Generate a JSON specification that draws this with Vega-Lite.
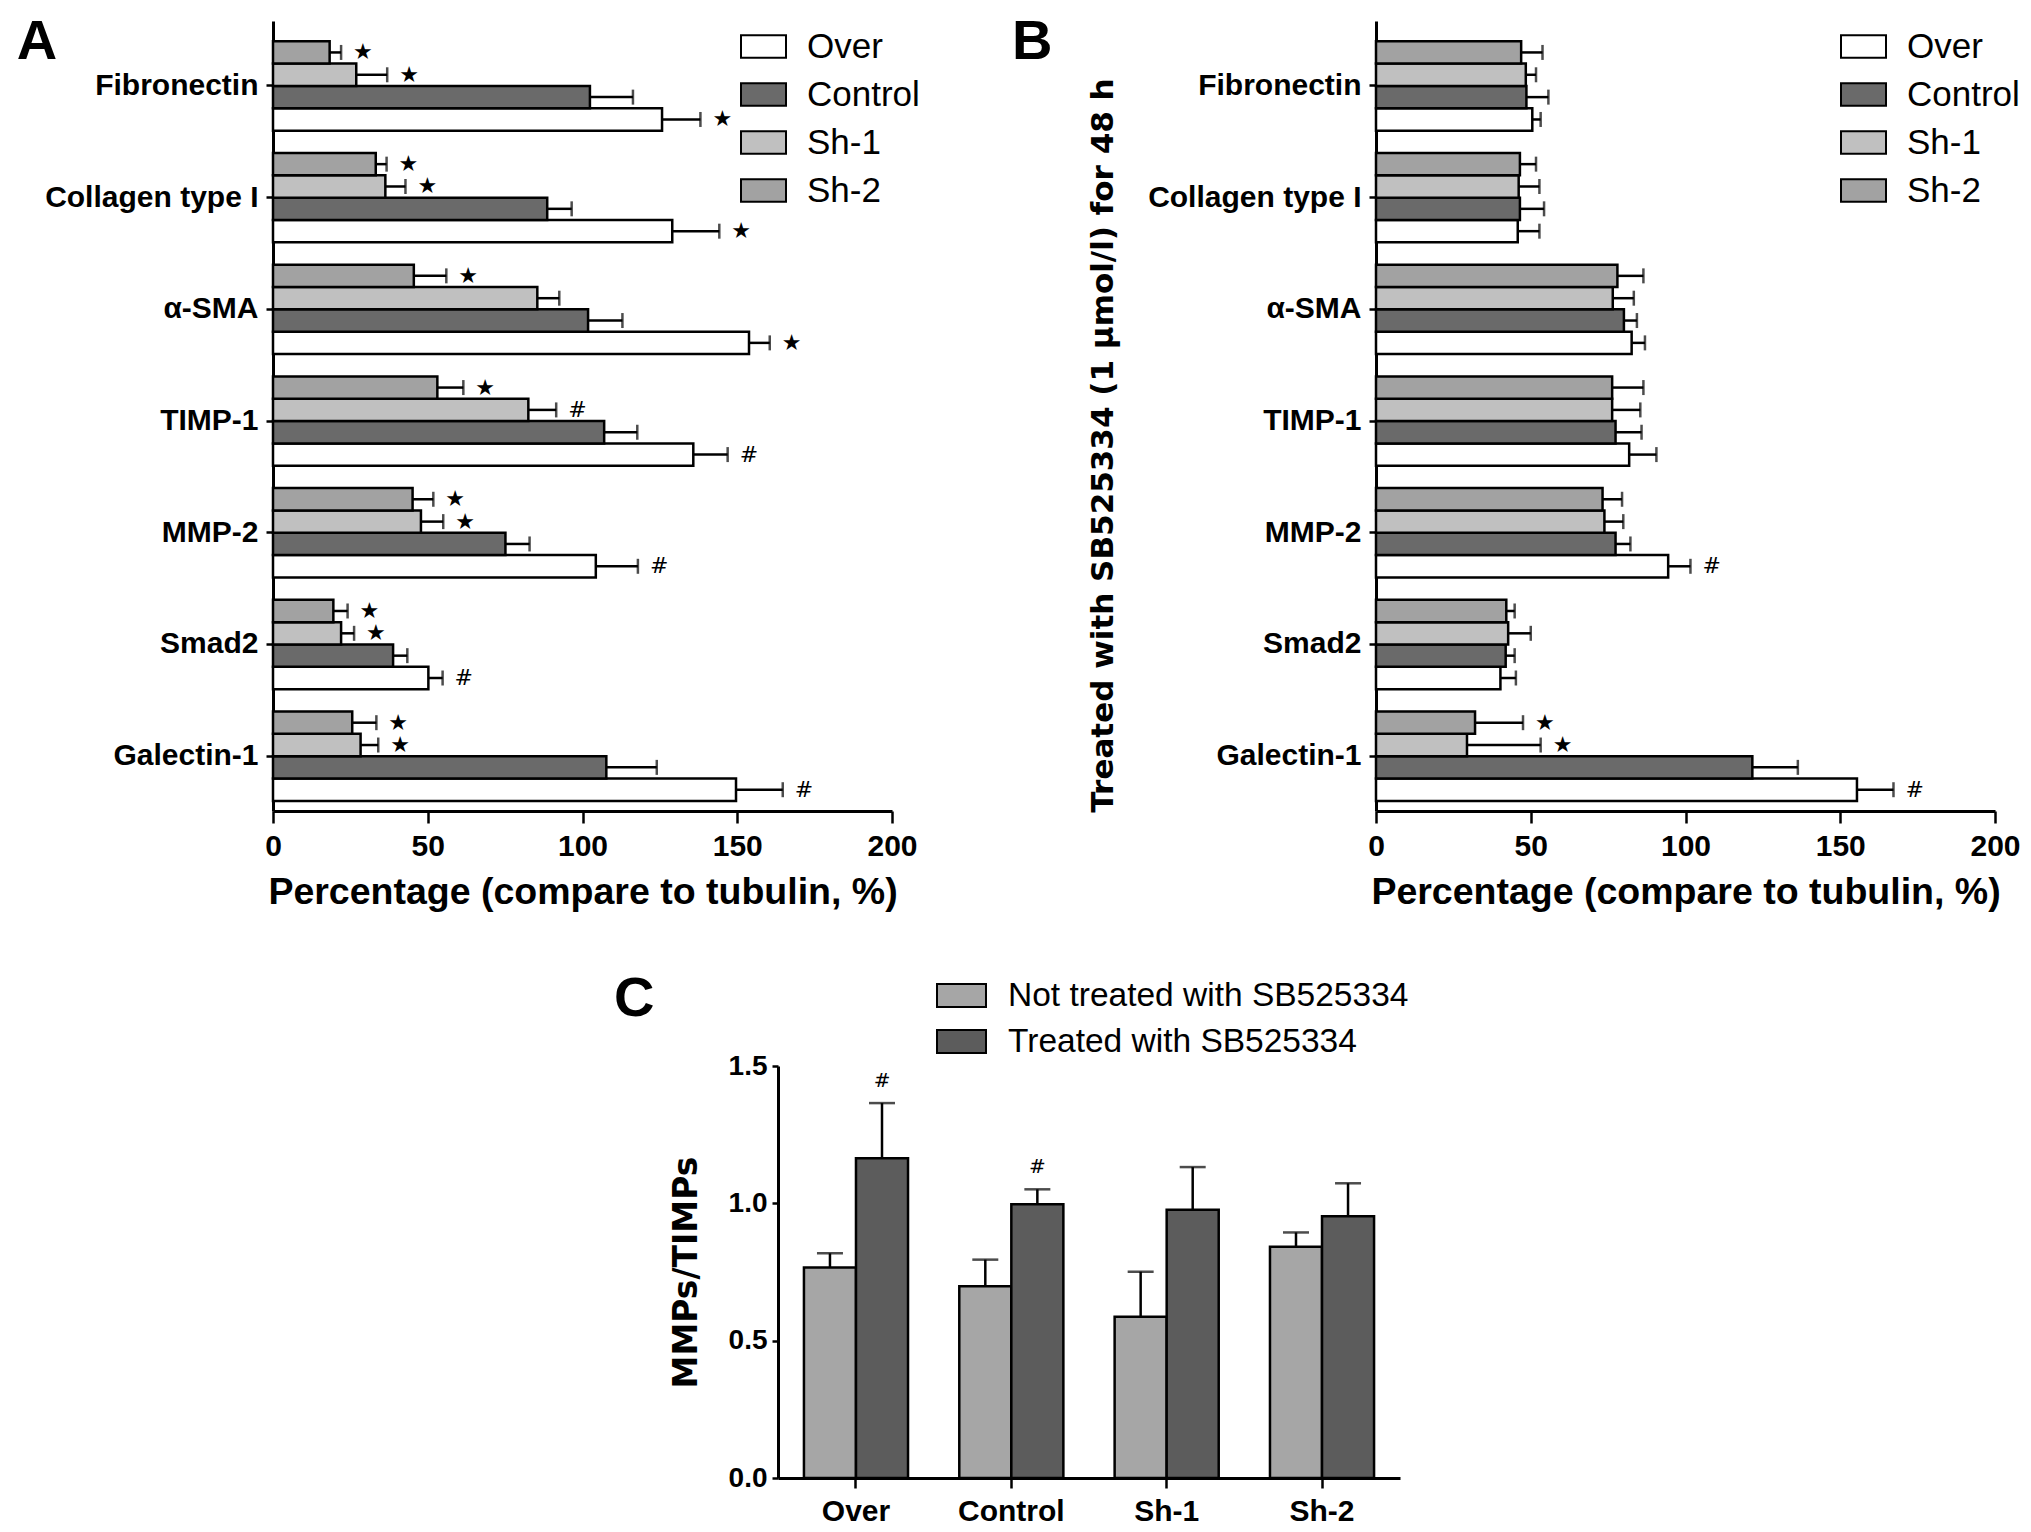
{
  "$schema": "https://vega.github.io/schema/vega-lite/v6.json",
  "background": "white",
  "padding": {"left": 16, "top": 14, "right": 0, "bottom": 0},
  "datasets": {
    "A": [
      {"protein": "Fibronectin", "group": "Over", "value": 125.7, "upper": 138.1, "sig": "★"},
      {"protein": "Fibronectin", "group": "Control", "value": 102.4, "upper": 116.3, "sig": ""},
      {"protein": "Fibronectin", "group": "Sh-1", "value": 26.9, "upper": 36.9, "sig": "★"},
      {"protein": "Fibronectin", "group": "Sh-2", "value": 18.3, "upper": 22.0, "sig": "★"},
      {"protein": "Collagen type I", "group": "Over", "value": 129.0, "upper": 144.2, "sig": "★"},
      {"protein": "Collagen type I", "group": "Control", "value": 88.6, "upper": 96.5, "sig": ""},
      {"protein": "Collagen type I", "group": "Sh-1", "value": 36.3, "upper": 42.8, "sig": "★"},
      {"protein": "Collagen type I", "group": "Sh-2", "value": 33.2, "upper": 36.7, "sig": "★"},
      {"protein": "α-SMA", "group": "Over", "value": 153.8, "upper": 160.5, "sig": "★"},
      {"protein": "α-SMA", "group": "Control", "value": 101.8, "upper": 112.9, "sig": ""},
      {"protein": "α-SMA", "group": "Sh-1", "value": 85.4, "upper": 92.5, "sig": ""},
      {"protein": "α-SMA", "group": "Sh-2", "value": 45.5, "upper": 56.0, "sig": "★"},
      {"protein": "TIMP-1", "group": "Over", "value": 135.8, "upper": 146.9, "sig": "#"},
      {"protein": "TIMP-1", "group": "Control", "value": 107.0, "upper": 117.7, "sig": ""},
      {"protein": "TIMP-1", "group": "Sh-1", "value": 82.5, "upper": 91.5, "sig": "#"},
      {"protein": "TIMP-1", "group": "Sh-2", "value": 53.1, "upper": 61.5, "sig": "★"},
      {"protein": "MMP-2", "group": "Over", "value": 104.3, "upper": 117.9, "sig": "#"},
      {"protein": "MMP-2", "group": "Control", "value": 75.1, "upper": 82.9, "sig": ""},
      {"protein": "MMP-2", "group": "Sh-1", "value": 47.8, "upper": 55.0, "sig": "★"},
      {"protein": "MMP-2", "group": "Sh-2", "value": 45.1, "upper": 51.8, "sig": "★"},
      {"protein": "Smad2", "group": "Over", "value": 50.2, "upper": 54.8, "sig": "#"},
      {"protein": "Smad2", "group": "Control", "value": 38.8, "upper": 43.4, "sig": ""},
      {"protein": "Smad2", "group": "Sh-1", "value": 22.0, "upper": 26.2, "sig": "★"},
      {"protein": "Smad2", "group": "Sh-2", "value": 19.5, "upper": 24.1, "sig": "★"},
      {"protein": "Galectin-1", "group": "Over", "value": 149.6, "upper": 164.7, "sig": "#"},
      {"protein": "Galectin-1", "group": "Control", "value": 107.7, "upper": 124.0, "sig": ""},
      {"protein": "Galectin-1", "group": "Sh-1", "value": 28.3, "upper": 34.0, "sig": "★"},
      {"protein": "Galectin-1", "group": "Sh-2", "value": 25.6, "upper": 33.4, "sig": "★"}
    ],
    "B": [
      {"protein": "Fibronectin", "group": "Over", "value": 50.5, "upper": 53.2, "sig": ""},
      {"protein": "Fibronectin", "group": "Control", "value": 48.6, "upper": 55.7, "sig": ""},
      {"protein": "Fibronectin", "group": "Sh-1", "value": 48.4, "upper": 51.7, "sig": ""},
      {"protein": "Fibronectin", "group": "Sh-2", "value": 46.9, "upper": 53.8, "sig": ""},
      {"protein": "Collagen type I", "group": "Over", "value": 45.8, "upper": 52.8, "sig": ""},
      {"protein": "Collagen type I", "group": "Control", "value": 46.5, "upper": 54.3, "sig": ""},
      {"protein": "Collagen type I", "group": "Sh-1", "value": 46.1, "upper": 52.8, "sig": ""},
      {"protein": "Collagen type I", "group": "Sh-2", "value": 46.5, "upper": 51.7, "sig": ""},
      {"protein": "α-SMA", "group": "Over", "value": 82.6, "upper": 86.9, "sig": ""},
      {"protein": "α-SMA", "group": "Control", "value": 80.1, "upper": 84.3, "sig": ""},
      {"protein": "α-SMA", "group": "Sh-1", "value": 76.5, "upper": 83.3, "sig": ""},
      {"protein": "α-SMA", "group": "Sh-2", "value": 78.0, "upper": 86.4, "sig": ""},
      {"protein": "TIMP-1", "group": "Over", "value": 81.8, "upper": 90.6, "sig": ""},
      {"protein": "TIMP-1", "group": "Control", "value": 77.4, "upper": 85.8, "sig": ""},
      {"protein": "TIMP-1", "group": "Sh-1", "value": 76.3, "upper": 85.4, "sig": ""},
      {"protein": "TIMP-1", "group": "Sh-2", "value": 76.3, "upper": 86.4, "sig": ""},
      {"protein": "MMP-2", "group": "Over", "value": 94.4, "upper": 101.6, "sig": "#"},
      {"protein": "MMP-2", "group": "Control", "value": 77.4, "upper": 82.2, "sig": ""},
      {"protein": "MMP-2", "group": "Sh-1", "value": 73.8, "upper": 79.9, "sig": ""},
      {"protein": "MMP-2", "group": "Sh-2", "value": 73.2, "upper": 79.5, "sig": ""},
      {"protein": "Smad2", "group": "Over", "value": 40.2, "upper": 45.2, "sig": ""},
      {"protein": "Smad2", "group": "Control", "value": 41.9, "upper": 44.8, "sig": ""},
      {"protein": "Smad2", "group": "Sh-1", "value": 42.7, "upper": 50.0, "sig": ""},
      {"protein": "Smad2", "group": "Sh-2", "value": 42.1, "upper": 44.8, "sig": ""},
      {"protein": "Galectin-1", "group": "Over", "value": 155.4, "upper": 167.2, "sig": "#"},
      {"protein": "Galectin-1", "group": "Control", "value": 121.6, "upper": 136.3, "sig": ""},
      {"protein": "Galectin-1", "group": "Sh-1", "value": 29.4, "upper": 53.2, "sig": "★"},
      {"protein": "Galectin-1", "group": "Sh-2", "value": 32.0, "upper": 47.5, "sig": "★"}
    ],
    "C": [
      {"cat": "Over", "group": "Not treated with SB525334", "value": 0.766, "upper": 0.818, "sig": ""},
      {"cat": "Over", "group": "Treated with SB525334", "value": 1.164, "upper": 1.365, "sig": "#"},
      {"cat": "Control", "group": "Not treated with SB525334", "value": 0.698, "upper": 0.795, "sig": ""},
      {"cat": "Control", "group": "Treated with SB525334", "value": 0.997, "upper": 1.051, "sig": "#"},
      {"cat": "Sh-1", "group": "Not treated with SB525334", "value": 0.587, "upper": 0.751, "sig": ""},
      {"cat": "Sh-1", "group": "Treated with SB525334", "value": 0.977, "upper": 1.132, "sig": ""},
      {"cat": "Sh-2", "group": "Not treated with SB525334", "value": 0.842, "upper": 0.894, "sig": ""},
      {"cat": "Sh-2", "group": "Treated with SB525334", "value": 0.953, "upper": 1.073, "sig": ""}
    ]
  },
  "vconcat": [
    {
      "hconcat": [
        {
          "data": {"name": "A"},
          "width": 619,
          "height": 790,
          "title": {"text": "A", "anchor": "start", "frame": "bounds", "fontSize": 56, "fontWeight": "bold", "font": "Liberation Sans", "dx": -28, "offset": -50, "color": "black"},
          "encoding": {
            "y": {"field": "protein", "type": "nominal", "sort": ["Fibronectin", "Collagen type I", "α-SMA", "TIMP-1", "MMP-2", "Smad2", "Galectin-1"],
              "scale": {"paddingInner": 0.2, "paddingOuter": 0.136, "align": 0.667},
              "axis": {"title": null, "tickSize": 7, "labelPadding": 8}},
            "yOffset": {"field": "group", "sort": ["Sh-2", "Sh-1", "Control", "Over"], "scale": {"paddingInner": 0, "paddingOuter": 0}}
          },
          "layer": [
            {
              "mark": {"type": "bar", "stroke": "black", "strokeWidth": 2.5, "opacity": 1},
              "encoding": {
                "x": {"field": "value", "type": "quantitative", "scale": {"domain": [0, 200], "nice": false},
                  "axis": {"title": "Percentage (compare to tubulin, %)", "values": [0, 50, 100, 150, 200], "tickSize": 12, "labelPadding": 8, "titlePadding": 12, "labelFlush": false}},
                "fill": {"field": "group", "type": "nominal", "scale": {"domain": ["Over", "Control", "Sh-1", "Sh-2"], "range": ["#ffffff", "#6a6a6a", "#c0c0c0", "#a2a2a2"]},
                  "legend": {"orient": "none", "legendX": 473, "legendY": 8}}
              }
            },
            {
              "mark": {"type": "rule", "color": "black", "strokeWidth": 2.5},
              "encoding": {"x": {"field": "value", "type": "quantitative"}, "x2": {"field": "upper"}}
            },
            {
              "mark": {"type": "tick", "orient": "vertical", "color": "black", "size": 15, "thickness": 2.5},
              "encoding": {"x": {"field": "upper", "type": "quantitative"}}
            },
            {
              "mark": {"type": "text", "align": "left", "baseline": "middle", "dx": 12, "font": "DejaVu Sans", "fontSize": 22, "fontWeight": "normal", "color": "black"},
              "encoding": {"x": {"field": "upper", "type": "quantitative"}, "text": {"field": "sig"}}
            }
          ]
        },
        {
          "data": {"name": "B"},
          "width": 619,
          "height": 790,
          "title": {"text": "B", "anchor": "start", "frame": "bounds", "fontSize": 56, "fontWeight": "bold", "font": "Liberation Sans", "dx": -75, "offset": -50, "color": "black"},
          "encoding": {
            "y": {"field": "protein", "type": "nominal", "sort": ["Fibronectin", "Collagen type I", "α-SMA", "TIMP-1", "MMP-2", "Smad2", "Galectin-1"],
              "scale": {"paddingInner": 0.2, "paddingOuter": 0.136, "align": 0.667},
              "axis": {"title": "Treated with SB525334 (1 μmol/l) for 48 h", "titleFont": "DejaVu Sans", "titleFontSize": 31, "titlePadding": 57, "titleY": 424, "tickSize": 7, "labelPadding": 8}},
            "yOffset": {"field": "group", "sort": ["Sh-2", "Sh-1", "Control", "Over"], "scale": {"paddingInner": 0, "paddingOuter": 0}}
          },
          "layer": [
            {
              "mark": {"type": "bar", "stroke": "black", "strokeWidth": 2.5, "opacity": 1},
              "encoding": {
                "x": {"field": "value", "type": "quantitative", "scale": {"domain": [0, 200], "nice": false},
                  "axis": {"title": "Percentage (compare to tubulin, %)", "values": [0, 50, 100, 150, 200], "tickSize": 12, "labelPadding": 8, "titlePadding": 12, "labelFlush": false}},
                "fill": {"field": "group", "type": "nominal", "scale": {"domain": ["Over", "Control", "Sh-1", "Sh-2"], "range": ["#ffffff", "#6a6a6a", "#c0c0c0", "#a2a2a2"]},
                  "legend": {"orient": "none", "legendX": 470, "legendY": 8}}
              }
            },
            {
              "mark": {"type": "rule", "color": "black", "strokeWidth": 2.5},
              "encoding": {"x": {"field": "value", "type": "quantitative"}, "x2": {"field": "upper"}}
            },
            {
              "mark": {"type": "tick", "orient": "vertical", "color": "black", "size": 15, "thickness": 2.5},
              "encoding": {"x": {"field": "upper", "type": "quantitative"}}
            },
            {
              "mark": {"type": "text", "align": "left", "baseline": "middle", "dx": 12, "font": "DejaVu Sans", "fontSize": 22, "fontWeight": "normal", "color": "black"},
              "encoding": {"x": {"field": "upper", "type": "quantitative"}, "text": {"field": "sig"}}
            }
          ]
        }
      ],
      "spacing": 92,
      "resolve": {"scale": {"fill": "independent"}, "legend": {"fill": "independent"}}
    },
    {
      "hconcat": [
        {
          "width": 321,
          "height": 10,
          "data": {"values": [{}]},
          "mark": {"type": "point", "opacity": 0},
          "encoding": {}
        },
        {
          "data": {"name": "C"},
          "width": 622,
          "height": 412,
          "title": {"text": "C", "anchor": "start", "frame": "bounds", "fontSize": 56, "fontWeight": "bold", "font": "Liberation Sans", "dx": -56, "offset": -50, "color": "black"},
          "encoding": {
            "x": {"field": "cat", "type": "nominal", "sort": ["Over", "Control", "Sh-1", "Sh-2"],
              "scale": {"paddingInner": 0.33, "paddingOuter": 0.167},
              "axis": {"title": null, "labelAngle": 0, "tickSize": 10, "labelPadding": 8}},
            "xOffset": {"field": "group", "sort": ["Not treated with SB525334", "Treated with SB525334"], "scale": {"paddingInner": 0, "paddingOuter": 0}}
          },
          "layer": [
            {
              "mark": {"type": "bar", "stroke": "black", "strokeWidth": 2.5, "opacity": 1},
              "encoding": {
                "y": {"field": "value", "type": "quantitative", "scale": {"domain": [0, 1.5], "nice": false},
                  "axis": {"title": "MMPs/TIMPs", "titleFont": "DejaVu Sans", "titleFontSize": 33, "titlePadding": 25, "values": [0, 0.5, 1, 1.5], "format": ".1f", "tickSize": 6, "labelPadding": 5, "labelFontSize": 28, "labelFlush": false}},
                "fill": {"field": "group", "type": "nominal", "scale": {"domain": ["Not treated with SB525334", "Treated with SB525334"], "range": ["#a6a6a6", "#5c5c5c"]},
                  "legend": {"orient": "none", "legendX": 166, "legendY": -88, "symbolType": "M-1.5,-0.7H1.5V0.7H-1.5Z", "symbolSize": 1067, "labelOffset": 29, "rowPadding": 12, "labelFontSize": 33.5}}
              }
            },
            {
              "mark": {"type": "rule", "color": "black", "strokeWidth": 2.5},
              "encoding": {"y": {"field": "value", "type": "quantitative"}, "y2": {"field": "upper"}}
            },
            {
              "mark": {"type": "tick", "orient": "horizontal", "color": "black", "size": 26, "thickness": 2.5},
              "encoding": {"y": {"field": "upper", "type": "quantitative"}}
            },
            {
              "mark": {"type": "text", "align": "center", "baseline": "bottom", "dy": -12, "font": "DejaVu Sans", "fontSize": 20, "fontWeight": "normal", "color": "black"},
              "encoding": {"y": {"field": "upper", "type": "quantitative"}, "text": {"field": "sig"}}
            }
          ]
        }
      ],
      "spacing": 20,
      "resolve": {"scale": {"fill": "independent"}, "legend": {"fill": "independent"}}
    }
  ],
  "spacing": 60,
  "resolve": {"scale": {"fill": "independent"}, "legend": {"fill": "independent"}},
  "config": {
    "view": {"stroke": null},
    "font": "Liberation Sans",
    "axis": {"grid": false, "domainColor": "black", "tickColor": "black", "labelColor": "black", "titleColor": "black",
      "domainWidth": 3, "tickWidth": 2.5, "labelFont": "Liberation Sans", "labelFontWeight": "bold", "labelFontSize": 30, "labelLimit": 500,
      "titleFont": "Liberation Sans", "titleFontWeight": "bold", "titleFontSize": 37.5},
    "legend": {"title": null, "symbolType": "M-1.5,-0.75H1.5V0.75H-1.5Z", "symbolSize": 900, "symbolStrokeColor": "black", "symbolStrokeWidth": 2,
      "symbolOpacity": 1, "labelFont": "Liberation Sans", "labelFontWeight": "normal", "labelFontSize": 35, "labelColor": "black", "labelLimit": 600,
      "labelOffset": 26, "rowPadding": 12}
  }
}
